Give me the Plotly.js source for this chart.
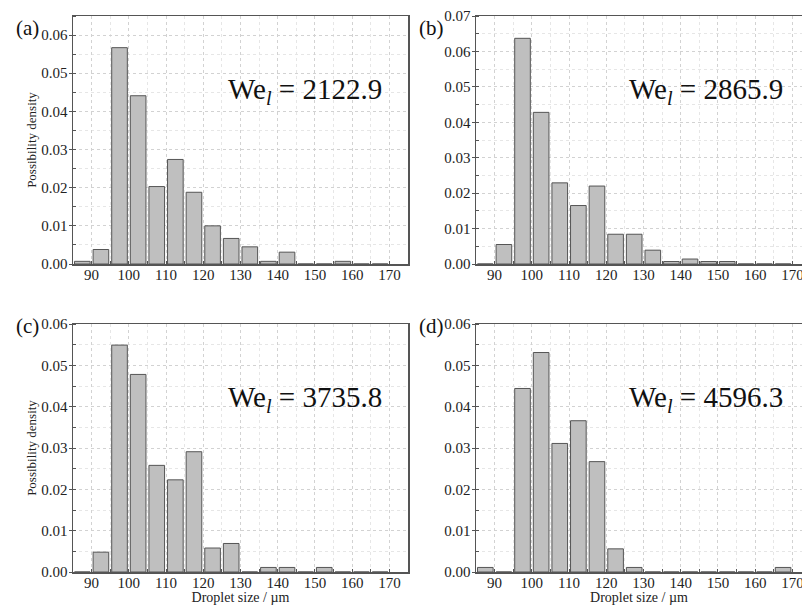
<!DOCTYPE html>
<html>
<head>
<meta charset="utf-8">
<script src="https://cdn.plot.ly/plotly-3.0.1.min.js"></script>
<style>html,body{margin:0;padding:0;background:#fff;}#chart{width:802px;height:610px;}</style>
</head>
<body>
<div id="chart"></div>
<script>
// Bin centres (droplet size, µm)
const binCenters = [87.5, 92.5, 97.5, 102.5, 107.5, 112.5, 117.5, 122.5, 127.5, 132.5, 137.5, 142.5, 147.5, 152.5, 157.5, 162.5, 167.5];
// Possibility density per panel
const densA = [0.0007, 0.0038, 0.0567, 0.0441, 0.0203, 0.0274, 0.0188, 0.0100, 0.0067, 0.0045, 0.0007, 0.0031, 0, 0, 0.0007, 0, 0];
const densB = [0, 0.0055, 0.0637, 0.0428, 0.0229, 0.0165, 0.0220, 0.0084, 0.0084, 0.0039, 0.0007, 0.0014, 0.0007, 0.0007, 0, 0, 0];
const densC = [0, 0.0048, 0.0549, 0.0478, 0.0258, 0.0223, 0.0291, 0.0058, 0.0069, 0, 0.0011, 0.0011, 0, 0.0011, 0, 0, 0];
const densD = [0.0011, 0, 0.0444, 0.0531, 0.0311, 0.0366, 0.0267, 0.0056, 0.0011, 0, 0, 0, 0, 0, 0, 0, 0.0011];
const panelLabels = ["(a)", "(b)", "(c)", "(d)"];
const weberLabels = ["2122.9", "2865.9", "3735.8", "4596.3"];
const yMax = [0.065, 0.07, 0.06, 0.06];
const xTitle = "Droplet size / µm";
const yTitle = "Possibility density";

const W = 802, H = 610;
const fx = p => p / W;
const fy = p => 1 - p / H;
const FONT = 'Liberation Serif';

const series = [densA, densB, densC, densD];
const boxes = [
  {x0: 73, x1: 408, y0: 16, y1: 264},
  {x0: 476, x1: 802, y0: 16, y1: 264},
  {x0: 73, x1: 408, y0: 324, y1: 572},
  {x0: 476, x1: 802, y0: 324, y1: 572}
];
const pxPerUnit = 335 / 90;

const traces = [];
const layout = {
  width: W, height: H,
  margin: {l: 0, r: 0, t: 0, b: 0},
  paper_bgcolor: '#ffffff', plot_bgcolor: '#ffffff',
  font: {family: FONT, color: '#222', size: 15},
  showlegend: false,
  bargap: 0,
  annotations: []
};

series.forEach((d, i) => {
  const n = i + 1;
  const xa = n === 1 ? 'x' : 'x' + n;
  const ya = n === 1 ? 'y' : 'y' + n;
  traces.push({
    type: 'bar', x: binCenters, y: d, width: 4.2,
    xaxis: xa, yaxis: ya,
    marker: {color: '#bfbfbf', line: {color: '#555555', width: 1}},
    hoverinfo: 'x+y'
  });
  const b = boxes[i];
  const xr = [85, 85 + (b.x1 - b.x0) / pxPerUnit];
  const axisCommon = {
    showline: true, linecolor: '#555', linewidth: 1.5, mirror: true,
    zeroline: false,
    showgrid: true, gridcolor: '#d2d2d2', griddash: 'dot', gridwidth: 1,
    tickcolor: '#555', tickwidth: 1, ticklabeloverflow: 'allow',
    tickfont: {family: FONT, size: 15, color: '#222'}
  };
  const xax = Object.assign({}, axisCommon, {
    domain: [fx(b.x0), fx(b.x1)], anchor: ya, range: xr,
    tick0: 90, dtick: 10, ticks: 'inside', ticklen: 3, ticklabelstandoff: -4,
    minor: {dtick: 5, tick0: 85, ticks: 'inside', ticklen: 3, tickcolor: '#555', showgrid: true, gridcolor: '#e6e6e6', griddash: 'dot'}
  });
  if (n >= 3) xax.title = {text: xTitle, font: {family: FONT, size: 14, color: '#222'}, standoff: 1};
  layout['xaxis' + (n === 1 ? '' : n)] = xax;
  const yax = Object.assign({}, axisCommon, {
    domain: [fy(b.y1), fy(b.y0)], anchor: xa, range: [0, yMax[i]],
    tick0: 0, dtick: 0.01, tickformat: '.2f', ticks: 'outside', ticklen: 3, ticklabelstandoff: -2,
    minor: {dtick: 0.005, ticks: 'inside', ticklen: 3, tickcolor: '#555', showgrid: true, gridcolor: '#e6e6e6', griddash: 'dot'}
  });
  if (n === 1 || n === 3) yax.title = {text: yTitle, font: {family: FONT, size: 13, color: '#222'}, standoff: 1};
  layout['yaxis' + (n === 1 ? '' : n)] = yax;
  // Panel letter
  layout.annotations.push({
    xref: 'paper', yref: 'paper',
    x: fx(n % 2 === 1 ? 14 : 417), y: fy(n <= 2 ? 28 : 326),
    xanchor: 'left', yanchor: 'middle', showarrow: false,
    text: panelLabels[i], font: {family: FONT, size: 21, color: '#111'}
  });
  // Weber label
  layout.annotations.push({
    xref: 'paper', yref: 'paper',
    x: fx(n % 2 === 1 ? 226 : 627), y: fy(n <= 2 ? 91 : 399),
    xanchor: 'left', yanchor: 'middle', showarrow: false,
    text: 'We<sub><i>l</i></sub> = ' + weberLabels[i], font: {family: FONT, size: 29, color: '#111'}
  });
});

Plotly.newPlot('chart', traces, layout, {displayModeBar: false, staticPlot: true});
</script>
</body>
</html>
